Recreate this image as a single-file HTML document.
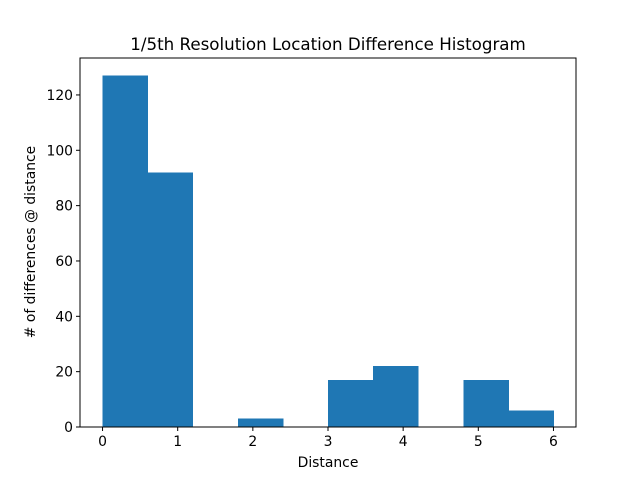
<!DOCTYPE html>
<html><head><meta charset="utf-8"><style>
body{margin:0;background:#fff;}
svg{display:block;font-family:"DejaVu Sans","Liberation Sans",sans-serif;}
</style></head><body>
<svg id="chart" width="640" height="480">
<rect width="640" height="480" fill="#fff"/>
<text x="328" y="50" text-anchor="middle" font-size="16.7">1/5th Resolution Location Difference Histogram</text>
<g id="bars" shape-rendering="crispEdges"></g>
<g id="axes"></g>
<text x="328" y="467" text-anchor="middle" font-size="13.9">Distance</text>
<text transform="translate(35,242) rotate(-90)" text-anchor="middle" font-size="13.9"># of differences @ distance</text>
</svg>
<script>
const binEdges=[0,0.6,1.2,1.8,2.4,3.0,3.6,4.2,4.8,5.4,6.0];
const counts=[127,92,0,3,0,17,22,0,17,6];
const xTicks=[0,1,2,3,4,5,6];
const yTicks=[0,20,40,60,80,100,120];
const L=80,R=576,T=58,B=427;
const xmin=-0.3,xmax=6.3,ymax=133.35;
const sx=v=>L+(v-xmin)/(xmax-xmin)*(R-L);
const sy=v=>B-v/ymax*(B-T);
const NS="http://www.w3.org/2000/svg";
const bars=document.getElementById('bars'),axes=document.getElementById('axes');
function mk(t,a,p){const e=document.createElementNS(NS,t);for(const k in a)e.setAttribute(k,a[k]);p.appendChild(e);return e;}
counts.forEach((c,i)=>{if(c<=0)return;
const r=mk('rect',{x:sx(binEdges[i]),y:sy(c),width:sx(binEdges[i+1])-sx(binEdges[i])+0.5,height:B-sy(c),fill:'#1f77b4'},bars);

});
mk('rect',{x:L,y:T,width:R-L,height:B-T,fill:'none',stroke:'#000','stroke-width':1},axes);
xTicks.forEach(v=>{const x=sx(v);mk('line',{x1:x,x2:x,y1:B,y2:B+4,stroke:'#000'},axes);
const t=mk('text',{x:x,y:B+19,'text-anchor':'middle','font-size':13.9},axes);t.textContent=v;

});
yTicks.forEach(v=>{const y=sy(v);mk('line',{x1:L-4,x2:L,y1:y,y2:y,stroke:'#000'},axes);
const t=mk('text',{x:L-7,y:y+5,'text-anchor':'end','font-size':13.9},axes);t.textContent=v;

});
</script>
</body></html>
